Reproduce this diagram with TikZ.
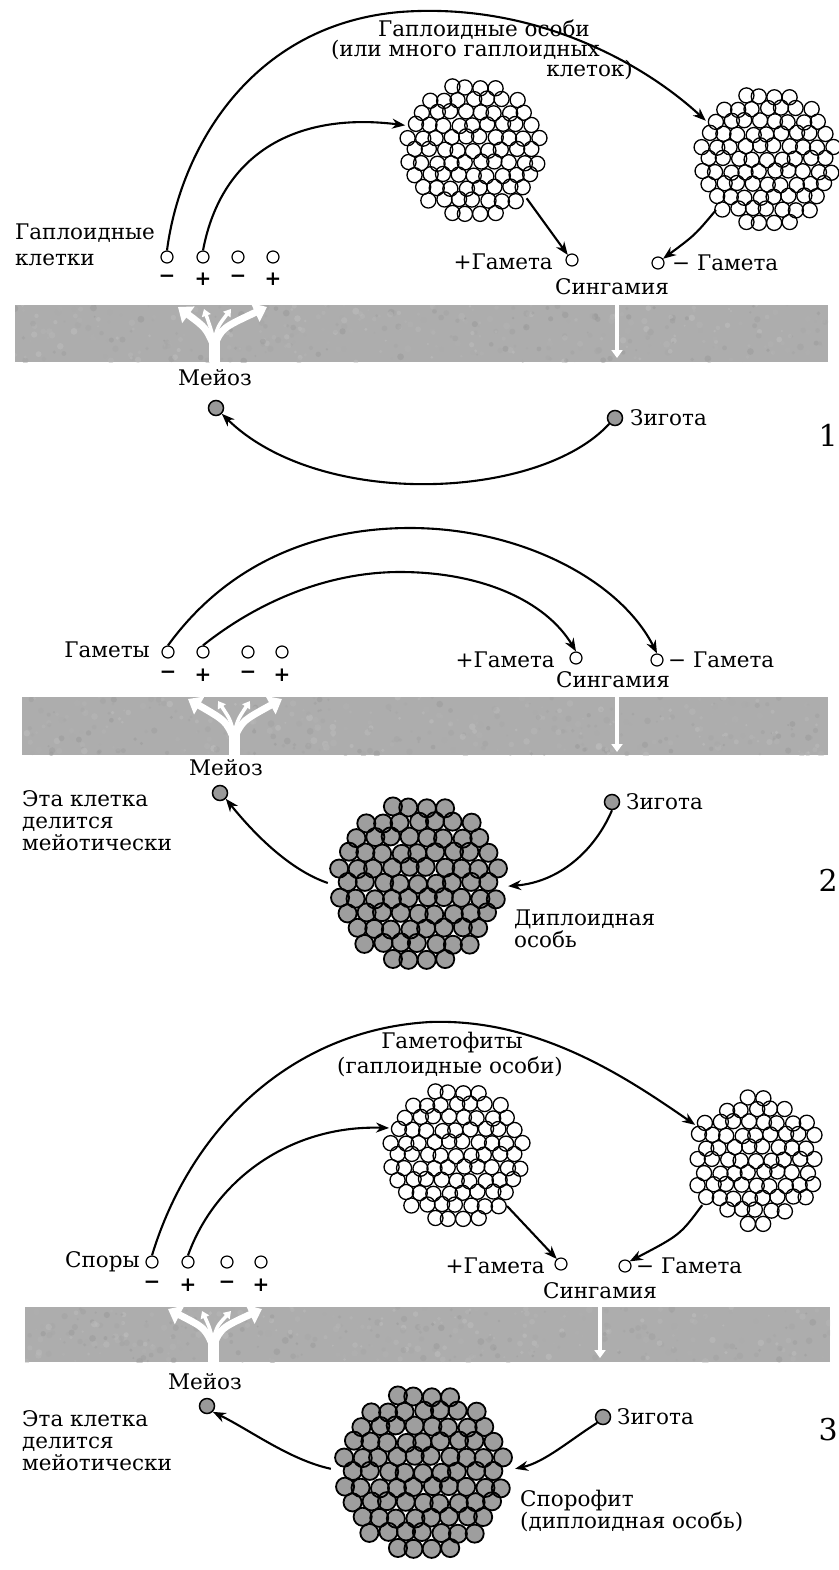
\documentclass[tikz,border=0pt]{standalone}
\usepackage{fontspec}
\setmainfont{DejaVu Serif}
\usetikzlibrary{arrows.meta}

\tikzset{
  lbl/.style={inner sep=0pt, font=\fontsize{21.5}{22}\selectfont},
  numlbl/.style={inner sep=0pt, anchor=east, font=\fontsize{30}{30}\selectfont},
  conn/.style={line width=2.1pt, -{Stealth[length=13pt,width=10pt]}},
  gam/.style={circle, draw, line width=1.2pt, minimum size=12pt, inner sep=0pt},
  dip/.style={circle, draw, line width=1.5pt, fill=black!40, minimum size=15pt, inner sep=0pt},
  sign/.style={inner sep=0pt, font=\fontsize{20}{20}\selectfont\bfseries},
  band/.style={fill=black!32, draw=none},
  wtrunk/.style={white, line width=11pt},
  wbranch/.style={white, line width=7pt, -{Triangle[length=13pt,width=20pt]}},
  wtwig/.style={white, line width=3.5pt, -{Triangle[length=7pt,width=9pt]}},
  wsyn/.style={white, line width=3.5pt, -{Triangle[length=8pt,width=11pt]}},
}

% a round colony of hexagonally packed cells:
% name, x, y, radius, pitch, cell fill, outline width
\newcommand\colony[7]{%
  \pgfmathsetmacro\colsize{2*#4}%
  \node[circle, minimum size=\colsize pt, inner sep=0pt] (#1) at (#2,#3) {};
  \pgfmathtruncatemacro\nmax{#4/#5+1}%
  \pgfmathsetmacro\rlim{(#4-0.5*#5+3)/#5}%
  \foreach \pass in {0,1}{
  \foreach \j in {-\nmax,...,\nmax}{
    \foreach \i in {-\nmax,...,\nmax}{
      \pgfmathsetmacro\ux{\i+0.5*mod(abs(\j),2)}
      \pgfmathsetmacro\uy{\j*0.866}
      \pgfmathtruncatemacro\inside{sqrt(\ux*\ux+\uy*\uy)<\rlim}
      \ifnum\inside=1
        \pgfmathsetmacro\jx{1.2*sin(\i*131+\j*71)}
        \pgfmathsetmacro\jy{1.2*cos(\i*53+\j*149)}
        \ifnum\pass=0
          \fill[#6] (#2+\ux*#5+\jx,#3+\uy*#5+\jy) circle[radius=0.5*#5+0.3];
        \else
          \draw[line width=#7] (#2+\ux*#5+\jx,#3+\uy*#5+\jy) circle[radius=0.5*#5+0.3];
        \fi
      \fi
    }
  }}
}

% fine-grained grey band: corner x, corner y, opposite x, opposite y
\newcommand\band[4]{%
  \fill[band] (#1,#2) rectangle (#3,#4);
  \begin{scope}
    \clip (#1,#2) rectangle (#3,#4);
    \foreach \k in {1,...,420}{
      \pgfmathsetmacro\px{#1+(#3-#1)*rnd}
      \pgfmathsetmacro\py{#2+(#4-#2)*rnd}
      \pgfmathsetmacro\pw{1+2.5*rnd}
      \pgfmathtruncatemacro\pc{24+18*rnd}
      \fill[black!\pc, opacity=0.45] (\px,\py) ellipse[x radius=\pw, y radius=\pw];
    }
  \end{scope}
}

% white branching arrows of meiosis inside the band:
% prefix, base x, base y, tip y, four tip x
\newcommand\meiosistree[8]{%
  \coordinate (#1b) at (#2,#3);
  \coordinate (#1f) at (#2,#3-22);
  \coordinate (#1t1) at (#5,#4);
  \coordinate (#1t2) at (#6,#4+2);
  \coordinate (#1t3) at (#7,#4+2);
  \coordinate (#1t4) at (#8,#4);
  \draw[wtrunk] (#1b) -- (#1f);
  \draw[wbranch] (#2,#3-16) .. controls (#2-8,#3-34) .. (#1t1);
  \draw[wbranch] (#2,#3-16) .. controls (#2+8,#3-34) .. (#1t4);
  \draw[wtwig] (#1f) .. controls (#2-4,#3-36) .. (#1t2);
  \draw[wtwig] (#1f) .. controls (#2+4,#3-36) .. (#1t3);
}

\begin{document}
\begin{tikzpicture}[x=1pt, y=-1pt]
\useasboundingbox[fill=white] (0,0) rectangle (838,1570);
\pgfmathsetseed{11}

% ================= life cycle 1 =================
\band{15}{305}{828}{362}
\meiosistree{a}{214}{362}{307}{178}{204}{231}{267}
\coordinate (sa1) at (617,305);
\coordinate (sa2) at (617,358);
\draw[wsyn] (sa1) -- (sa2);

\colony{c1L}{473}{150}{72}{14.5}{white}{1.3pt}
\colony{c1R}{767}{159}{72}{14.5}{white}{1.3pt}

\node[lbl, anchor=east] (t1a) at (590,30) {Гаплоидные особи};
\node[lbl, anchor=east] (t1b) at (600,50) {(или много гаплоидных};
\node[lbl, anchor=east] (t1c) at (633,70) {клеток)};

\node[lbl, anchor=west] (l1a) at (15,233) {Гаплоидные};
\node[lbl, anchor=west] (l1b) at (15,260) {клетки};
\node[gam] (g1a) at (167,257) {};
\node[gam] (g1b) at (203,257) {};
\node[gam] (g1c) at (238,257) {};
\node[gam] (g1d) at (273,257) {};
\node[sign] (p1a) at (167,279) {−};
\node[sign] (p1b) at (203,279) {+};
\node[sign] (p1c) at (238,279) {−};
\node[sign] (p1d) at (273,279) {+};

\node[lbl, anchor=east] (pg1) at (553,262) {+Гамета};
\node[gam] (gp1) at (572,260) {};
\node[gam] (gm1) at (658,263) {};
\node[lbl, anchor=west] (mg1) at (672,263) {− Гамета};
\node[lbl] (sy1) at (612,287) {Сингамия};

\node[lbl] (me1) at (215,378) {Мейоз};
\node[dip] (m1) at (216,408) {};
\node[dip] (z1) at (615,418) {};
\node[lbl, anchor=west] (zt1) at (630,418) {Зигота};
\node[numlbl] (n1) at (838,435) {1};

\draw[conn] (g1a.north) .. controls (180,150) and (250,25) .. (400,12)
            .. controls (530,2) and (640,60) .. (c1R.148);
\draw[conn] (g1b.north) .. controls (222,150) and (300,112) .. (c1L.160);
\draw[conn] (c1L.-42) -- (gp1.130);
\draw[conn] (c1R.-135) .. controls (695,235) .. (gm1.40);
\draw[conn] (z1.south west) .. controls (540,500) and (320,510) .. (m1.south east);

% ================= life cycle 2 =================
\band{22}{697}{828}{755}
\meiosistree{b}{234}{755}{699}{188}{218}{250}{282}
\coordinate (sb1) at (617,697);
\coordinate (sb2) at (617,752);
\draw[wsyn] (sb1) -- (sb2);

\node[lbl, anchor=east] (l2) at (150,650) {Гаметы};
\node[gam] (g2a) at (168,652) {};
\node[gam] (g2b) at (203,652) {};
\node[gam] (g2c) at (248,652) {};
\node[gam] (g2d) at (282,652) {};
\node[sign] (p2a) at (168,675) {−};
\node[sign] (p2b) at (203,675) {+};
\node[sign] (p2c) at (248,675) {−};
\node[sign] (p2d) at (282,675) {+};

\node[lbl, anchor=east] (pg2) at (555,660) {+Гамета};
\node[gam] (gp2) at (576,658) {};
\node[gam] (gm2) at (657,660) {};
\node[lbl, anchor=west] (mg2) at (668,660) {− Гамета};
\node[lbl] (sy2) at (613,680) {Сингамия};

\node[lbl] (me2) at (226,768) {Мейоз};
\node[dip] (m2) at (220,793) {};
\node[lbl, anchor=north west, align=left] (e2) at (22,790) {Эта клетка\\делится\\мейотически};
\node[dip] (z2) at (612,802) {};
\node[lbl, anchor=west] (zt2) at (626,802) {Зигота};

\colony{D2}{418}{883}{90}{17.5}{black!38}{1.8pt}
\node[lbl, anchor=north west, align=left] (dl2) at (514,910) {Диплоидная\\особь};
\node[numlbl] (n2) at (838,880) {2};

\draw[conn] (g2a.north) .. controls (230,560) and (320,528) .. (410,528)
            .. controls (520,528) and (620,580) .. (gm2.north);
\draw[conn] (g2b.north) .. controls (260,600) and (330,572) .. (400,572)
            .. controls (480,572) and (545,600) .. (gp2.north);
\draw[conn] (z2.south) .. controls (595,850) and (560,882) .. (D2.-2);
\draw[conn] (D2.180) .. controls (290,870) and (255,835) .. (m2.south east);

% ================= life cycle 3 =================
\band{25}{1307}{830}{1362}
\meiosistree{c}{213}{1362}{1309}{168}{202}{231}{262}
\coordinate (sc1) at (600,1307);
\coordinate (sc2) at (600,1358);
\draw[wsyn] (sc1) -- (sc2);

\node[lbl] (t3a) at (452,1043) {Гаметофиты};
\node[lbl] (t3b) at (450,1067) {(гаплоидные особи)};
\colony{L3}{456}{1155}{72}{14.5}{white}{1.3pt}
\colony{R3}{756}{1160}{70}{14.5}{white}{1.3pt}

\node[lbl, anchor=east] (l3) at (140,1262) {Споры};
\node[gam] (s3a) at (152,1262) {};
\node[gam] (s3b) at (188,1262) {};
\node[gam] (s3c) at (227,1262) {};
\node[gam] (s3d) at (261,1262) {};
\node[sign] (p3a) at (152,1285) {−};
\node[sign] (p3b) at (188,1285) {+};
\node[sign] (p3c) at (227,1285) {−};
\node[sign] (p3d) at (261,1285) {+};

\node[lbl, anchor=east] (pg3) at (545,1266) {+Гамета};
\node[gam] (gp3) at (561,1264) {};
\node[gam] (gm3) at (625,1266) {};
\node[lbl, anchor=west] (mg3) at (636,1266) {− Гамета};
\node[lbl] (sy3) at (600,1291) {Сингамия};

\node[lbl] (me3) at (205,1382) {Мейоз};
\node[dip] (m3) at (207,1406) {};
\node[lbl, anchor=north west, align=left] (e3) at (22,1410) {Эта клетка\\делится\\мейотически};
\node[dip] (z3) at (603,1417) {};
\node[lbl, anchor=west] (zt3) at (617,1417) {Зигота};

\colony{S3}{423}{1472}{92}{17.5}{black!38}{1.8pt}
\node[lbl, anchor=north west, align=left] (sl3) at (520,1490) {Спорофит\\(диплоидная особь)};
\node[numlbl] (n3) at (838,1430) {3};

\draw[conn] (s3a.north) .. controls (190,1130) and (290,1030) .. (430,1022)
            .. controls (540,1018) and (630,1080) .. (R3.150);
\draw[conn] (s3b.north) .. controls (215,1180) and (290,1125) .. (L3.158);
\draw[conn] (L3.-45) -- (gp3.130);
\draw[conn] (R3.-140) .. controls (680,1235) .. (gm3.45);
\draw[conn] (z3.south west) .. controls (570,1440) and (545,1462) .. (S3.2);
\draw[conn] (S3.178) .. controls (290,1460) and (250,1430) .. (m3.south east);
\end{tikzpicture}
\end{document}
